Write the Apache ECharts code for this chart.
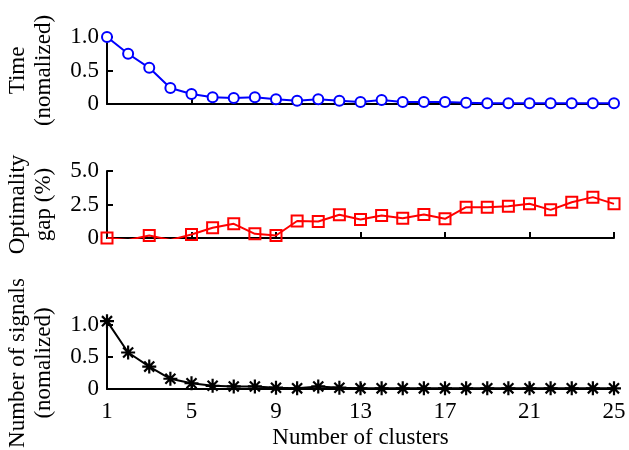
<!DOCTYPE html>
<html>
<head>
<meta charset="utf-8">
<script src="https://cdn.jsdelivr.net/npm/echarts@6/dist/echarts.min.js"></script>
<style>
html,body{margin:0;padding:0;background:#fff;}
#chart{width:629px;height:450px;}
</style>
</head>
<body>
<div id="chart"></div>
<script>
// ---- data ----
var clusters = ['1','2','3','4','5','6','7','8','9','10','11','12','13','14','15','16','17','18','19','20','21','22','23','24','25'];
var timeNorm = [1.0, 0.75, 0.54, 0.24, 0.15, 0.10, 0.09, 0.10, 0.07, 0.05, 0.07, 0.05, 0.03, 0.06, 0.03, 0.03, 0.03, 0.02, 0.01, 0.01, 0.01, 0.01, 0.01, 0.01, 0.01];
var optGap = [0, -0.15, 0.19, -0.15, 0.26, 0.76, 1.06, 0.31, 0.19, 1.27, 1.23, 1.73, 1.38, 1.68, 1.48, 1.75, 1.43, 2.30, 2.30, 2.37, 2.55, 2.10, 2.67, 3.05, 2.55];
var signalsNorm = [1.06, 0.57, 0.35, 0.16, 0.09, 0.05, 0.04, 0.04, 0.02, 0.01, 0.04, 0.02, 0.01, 0.01, 0.01, 0.01, 0.01, 0.01, 0.01, 0.01, 0.01, 0.01, 0.01, 0.01, 0.01];
var timeTicks = [0, 0.5, 1.0];
var gapTicks = [0, 2.5, 5.0];
var sigTicks = [0, 0.5, 1.0];

var FONT = 'Liberation Serif';
var chart = echarts.init(document.getElementById('chart'), null, {renderer: 'canvas'});

function fmt(v){ return v === 0 ? '0' : v.toFixed(1); }

var grids = [
  {left: 107, right: 15, top: 37, height: 67, outerBoundsMode: 'none', containLabel: false},
  {left: 107, right: 15, top: 171, height: 67, outerBoundsMode: 'none', containLabel: false},
  {left: 107, right: 15, top: 325, height: 64, outerBoundsMode: 'none', containLabel: false}
];

function xAx(i, showLabels){
  return {
    type: 'category', gridIndex: i, data: clusters, boundaryGap: false,
    axisLine: {lineStyle: {color: '#000', width: 2}},
    axisTick: {show: true, inside: true, length: 6, interval: 3, lineStyle: {color: '#000', width: 2}},
    axisLabel: {show: showLabels, interval: 3, color: '#000', fontFamily: FONT, fontSize: 23, margin: 11},
    name: showLabels ? 'Number of clusters' : '',
    nameLocation: 'middle', nameGap: 37,
    nameTextStyle: {color: '#000', fontFamily: FONT, fontSize: 23},
    splitLine: {show: false},
    z: 3
  };
}
function yAx(i, ticks, name, pad){
  return {
    type: 'value', gridIndex: i, min: ticks[0], max: ticks[ticks.length-1], interval: ticks[1]-ticks[0],
    axisLine: {show: true, lineStyle: {color: '#000', width: 2}},
    axisTick: {show: true, inside: true, length: 6, lineStyle: {color: '#000', width: 2}},
    axisLabel: {color: '#000', fontFamily: FONT, fontSize: 23, margin: 8, formatter: fmt},
    splitLine: {show: false},
    name: name, nameLocation: 'middle', nameRotate: 90, nameGap: 50,
    nameTextStyle: {color: '#000', fontFamily: FONT, fontSize: 23, lineHeight: 26, align: 'center', padding: pad || 0},
    z: 3
  };
}

var star = 'path://M0,-6L0,6M-6,0L6,0M-4.3,-4.3L4.3,4.3M-4.3,4.3L4.3,-4.3';

chart.setOption({
  animation: false,
  backgroundColor: '#fff',
  grid: grids,
  xAxis: [xAx(0,false), xAx(1,false), xAx(2,true)],
  yAxis: [
    yAx(0, timeTicks, 'Time\n(nomalized)'),
    yAx(1, gapTicks, 'Optimality\ngap (%)'),
    yAx(2, sigTicks, 'Number of signals\n(nomalized)', [0, 12, 0, 0])
  ],
  series: [
    {type: 'line', xAxisIndex: 0, yAxisIndex: 0, data: timeNorm, clip: false,
     symbol: 'circle', symbolSize: 10, showAllSymbol: true,
     lineStyle: {color: '#0000ff', width: 2},
     itemStyle: {color: '#fff', borderColor: '#0000ff', borderWidth: 2}},
    {type: 'line', xAxisIndex: 1, yAxisIndex: 1, data: optGap, clip: true,
     symbol: 'rect', symbolSize: 11, showAllSymbol: true,
     lineStyle: {color: '#ff0000', width: 2},
     itemStyle: {color: 'rgba(0,0,0,0)', borderColor: '#ff0000', borderWidth: 2}},
    {type: 'line', xAxisIndex: 2, yAxisIndex: 2, data: signalsNorm, clip: false,
     symbol: star, symbolSize: 14, showAllSymbol: true,
     lineStyle: {color: '#000', width: 2},
     itemStyle: {color: 'rgba(0,0,0,0)', borderColor: '#000', borderWidth: 2.2}}
  ]
});
</script>
</body>
</html>
